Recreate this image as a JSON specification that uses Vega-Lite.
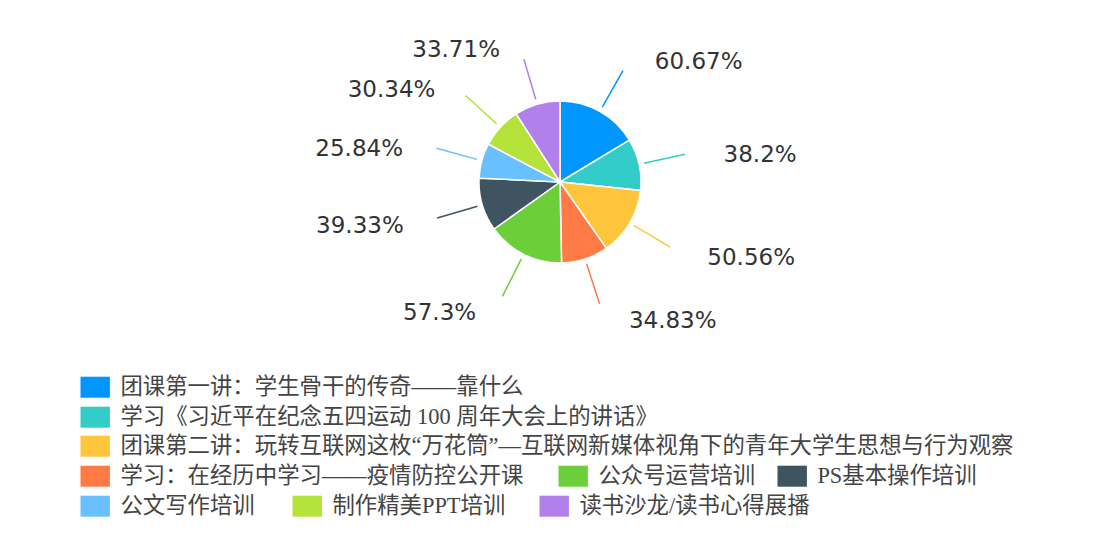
{
  "$schema": "https://vega.github.io/schema/vega-lite/v6.json",
  "width": 1120,
  "height": 364,
  "autosize": {"type": "none"},
  "padding": {"left": 0, "top": 0, "right": 0, "bottom": 196},
  "background": "white",
  "config": {
    "view": {"stroke": null},
    "legend": {
      "orient": "none",
      "title": null,
      "padding": 0,
      "symbolType": "M-1.4,-1H1.4V1H-1.4Z",
      "symbolSize": 441,
      "symbolStrokeWidth": 0,
      "symbolOpacity": 1,
      "labelFont": "Liberation Serif, Noto Sans CJK SC",
      "labelFontSize": 22.4,
      "labelColor": "#444444",
      "labelOffset": 14,
      "labelLimit": 0
    }
  },
  "data": {
    "values": [
      {"order": 1, "name": "团课第一讲：学生骨干的传奇——靠什么", "value": 60.67},
      {"order": 2, "name": "学习《习近平在纪念五四运动 100 周年大会上的讲话》", "value": 38.2},
      {"order": 3, "name": "团课第二讲：玩转互联网这枚“万花筒”—互联网新媒体视角下的青年大学生思想与行为观察", "value": 50.56},
      {"order": 4, "name": "学习：在经历中学习——疫情防控公开课", "value": 34.83},
      {"order": 5, "name": "公众号运营培训", "value": 57.3},
      {"order": 6, "name": "PS基本操作培训", "value": 39.33},
      {"order": 7, "name": "公文写作培训", "value": 25.84},
      {"order": 8, "name": "制作精美PPT培训", "value": 30.34},
      {"order": 9, "name": "读书沙龙/读书心得展播", "value": 33.71}
    ]
  },
  "transform": [
    {"stack": "value", "sort": [{"field": "order", "order": "ascending"}], "groupby": [], "as": ["v0", "v1"]},
    {"calculate": "(datum.v0 + datum.v1) / 2", "as": "mid"},
    {"calculate": "datum.value + '%'", "as": "label"}
  ],
  "layer": [
    {
      "transform": [{"filter": "datum.order == 1"}],
      "mark": {"type": "arc", "outerRadius": 81, "stroke": "white", "strokeWidth": 1.5},
      "encoding": {
        "theta": {"field": "v0", "type": "quantitative", "stack": null, "scale": {"domain": [0, 370.78], "nice": false}},
        "theta2": {"field": "v1"},
        "color": {"field": "name", "type": "nominal", "scale": {"range": ["#0096ff"]}, "legend": {"legendX": 84, "legendY": 376}}
      }
    },
    {
      "transform": [{"filter": "datum.order == 2"}],
      "mark": {"type": "arc", "outerRadius": 81, "stroke": "white", "strokeWidth": 1.5},
      "encoding": {
        "theta": {"field": "v0", "type": "quantitative", "stack": null, "scale": {"domain": [0, 370.78], "nice": false}},
        "theta2": {"field": "v1"},
        "color": {"field": "name", "type": "nominal", "scale": {"range": ["#33cdc9"]}, "legend": {"legendX": 84, "legendY": 406}}
      }
    },
    {
      "transform": [{"filter": "datum.order == 3"}],
      "mark": {"type": "arc", "outerRadius": 81, "stroke": "white", "strokeWidth": 1.5},
      "encoding": {
        "theta": {"field": "v0", "type": "quantitative", "stack": null, "scale": {"domain": [0, 370.78], "nice": false}},
        "theta2": {"field": "v1"},
        "color": {"field": "name", "type": "nominal", "scale": {"range": ["#ffc53d"]}, "legend": {"legendX": 84, "legendY": 435}}
      }
    },
    {
      "transform": [{"filter": "datum.order == 4"}],
      "mark": {"type": "arc", "outerRadius": 81, "stroke": "white", "strokeWidth": 1.5},
      "encoding": {
        "theta": {"field": "v0", "type": "quantitative", "stack": null, "scale": {"domain": [0, 370.78], "nice": false}},
        "theta2": {"field": "v1"},
        "color": {"field": "name", "type": "nominal", "scale": {"range": ["#ff7a45"]}, "legend": {"legendX": 84, "legendY": 465}}
      }
    },
    {
      "transform": [{"filter": "datum.order == 5"}],
      "mark": {"type": "arc", "outerRadius": 81, "stroke": "white", "strokeWidth": 1.5},
      "encoding": {
        "theta": {"field": "v0", "type": "quantitative", "stack": null, "scale": {"domain": [0, 370.78], "nice": false}},
        "theta2": {"field": "v1"},
        "color": {"field": "name", "type": "nominal", "scale": {"range": ["#6ccf3a"]}, "legend": {"legendX": 562, "legendY": 465}}
      }
    },
    {
      "transform": [{"filter": "datum.order == 6"}],
      "mark": {"type": "arc", "outerRadius": 81, "stroke": "white", "strokeWidth": 1.5},
      "encoding": {
        "theta": {"field": "v0", "type": "quantitative", "stack": null, "scale": {"domain": [0, 370.78], "nice": false}},
        "theta2": {"field": "v1"},
        "color": {"field": "name", "type": "nominal", "scale": {"range": ["#3f5461"]}, "legend": {"legendX": 781, "legendY": 465}}
      }
    },
    {
      "transform": [{"filter": "datum.order == 7"}],
      "mark": {"type": "arc", "outerRadius": 81, "stroke": "white", "strokeWidth": 1.5},
      "encoding": {
        "theta": {"field": "v0", "type": "quantitative", "stack": null, "scale": {"domain": [0, 370.78], "nice": false}},
        "theta2": {"field": "v1"},
        "color": {"field": "name", "type": "nominal", "scale": {"range": ["#69c0ff"]}, "legend": {"legendX": 84, "legendY": 495}}
      }
    },
    {
      "transform": [{"filter": "datum.order == 8"}],
      "mark": {"type": "arc", "outerRadius": 81, "stroke": "white", "strokeWidth": 1.5},
      "encoding": {
        "theta": {"field": "v0", "type": "quantitative", "stack": null, "scale": {"domain": [0, 370.78], "nice": false}},
        "theta2": {"field": "v1"},
        "color": {"field": "name", "type": "nominal", "scale": {"range": ["#b5e33a"]}, "legend": {"legendX": 296, "legendY": 495}}
      }
    },
    {
      "transform": [{"filter": "datum.order == 9"}],
      "mark": {"type": "arc", "outerRadius": 81, "stroke": "white", "strokeWidth": 1.5},
      "encoding": {
        "theta": {"field": "v0", "type": "quantitative", "stack": null, "scale": {"domain": [0, 370.78], "nice": false}},
        "theta2": {"field": "v1"},
        "color": {"field": "name", "type": "nominal", "scale": {"range": ["#b37feb"]}, "legend": {"legendX": 543, "legendY": 495}}
      }
    },
    {
      "mark": {"type": "arc", "radius": 128, "radius2": 86, "filled": false, "strokeWidth": 1.5},
      "encoding": {
        "theta": {"field": "mid", "type": "quantitative", "stack": null, "scale": {"domain": [0, 370.78], "nice": false}},
        "theta2": {"field": "mid"},
        "stroke": {
          "field": "order", "type": "nominal",
          "scale": {"domain": [1, 2, 3, 4, 5, 6, 7, 8, 9], "range": ["#0096ff", "#33cdc9", "#ffc53d", "#ff7a45", "#6ccf3a", "#3f5461", "#69c0ff", "#b5e33a", "#b37feb"]},
          "legend": null
        }
      }
    },
    {
      "transform": [{"filter": "datum.order <= 4"}],
      "mark": {"type": "text", "radius": 142, "align": "left", "baseline": "middle", "dx": 25, "dy": 4, "font": "DejaVu Sans", "fontSize": 23, "fill": "#333333"},
      "encoding": {
        "theta": {"field": "mid", "type": "quantitative", "stack": null, "scale": {"domain": [0, 370.78], "nice": false}},
        "text": {"field": "label"}
      }
    },
    {
      "transform": [{"filter": "datum.order > 4"}],
      "mark": {"type": "text", "radius": 142, "align": "right", "baseline": "middle", "dx": -20, "dy": 4, "font": "DejaVu Sans", "fontSize": 23, "fill": "#333333"},
      "encoding": {
        "theta": {"field": "mid", "type": "quantitative", "stack": null, "scale": {"domain": [0, 370.78], "nice": false}},
        "text": {"field": "label"}
      }
    }
  ],
  "resolve": {"scale": {"color": "independent"}, "legend": {"color": "independent"}}
}
